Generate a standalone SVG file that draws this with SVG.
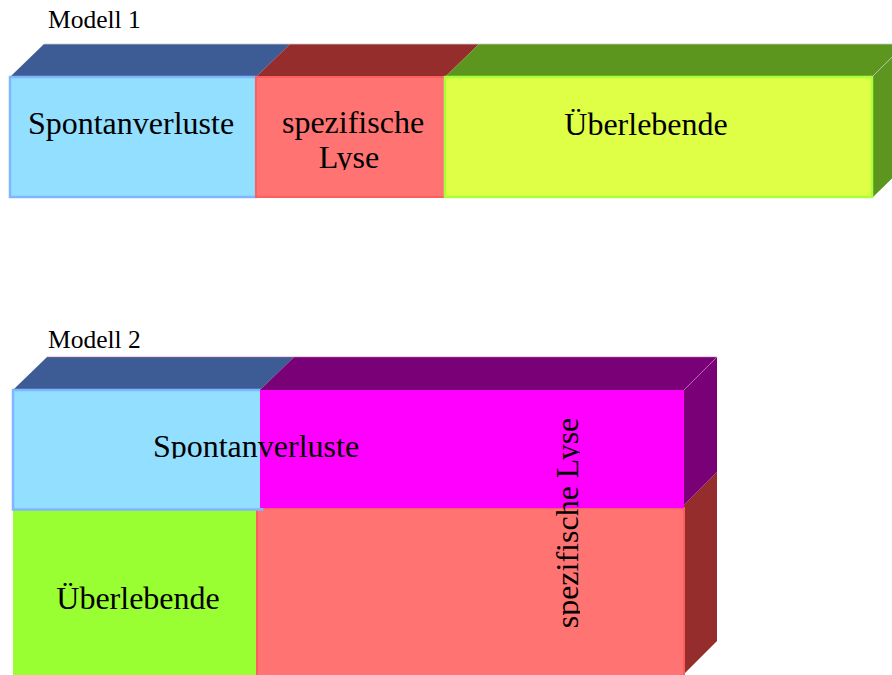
<svg xmlns="http://www.w3.org/2000/svg" width="892" height="675" viewBox="0 0 892 675">
<style>
text{font-family:"Liberation Serif","Times New Roman",serif;fill:#000}
.lbl{font-size:32px}
.cap{font-size:25.5px;font-family:"Liberation Serif","Times New Roman",serif}
.blueF{fill:#93dfff;stroke:#80b6ff;stroke-width:2.5}
.blueT{fill:#3d5b95}
.redF{fill:#ff7373;stroke:#ff5e5e;stroke-width:2}
.redT{fill:#952d2d}
.yelF{fill:#dfff46;stroke:#aaff3a;stroke-width:2.5}
.grnT{fill:#5c961f}
.magF{fill:#ff00ff}
.purT{fill:#7a0078}
.limeF{fill:#99ff33}
.edge{stroke:#c8c8c8;stroke-width:0.8;fill:none}
</style>
<defs>
<clipPath id="c1"><rect x="256" y="77" width="189" height="93"/></clipPath>
<clipPath id="c2"><rect x="0" y="390" width="700" height="68.5"/></clipPath>
<clipPath id="c3"><rect x="400" y="390" width="180" height="285"/></clipPath>
</defs>

<g id="captions">
<text class="cap" x="48" y="28" font-family="Liberation Serif, serif">Modell 1</text>
<text class="cap" x="48" y="348" font-family="Liberation Serif, serif">Modell 2</text>
</g>

<g id="m1-spontanverluste">
<polygon class="blueT" points="10,77 44,44 290,44 256,77"/>
<rect class="blueF" x="10" y="77" width="246" height="120"/>
<text class="lbl" x="131" y="134" text-anchor="middle">Spontanverluste</text>
</g>
<g id="m1-lyse">
<polygon class="redT" points="256,77 290,44 479,44 445,77"/>
<rect class="redF" x="256" y="77" width="189" height="120"/>
<g clip-path="url(#c1)">
<text class="lbl" x="353" y="133" text-anchor="middle">spezifische</text>
<text class="lbl" x="349" y="168" text-anchor="middle">Lyse</text>
</g>
</g>
<g id="m1-ueberlebende">
<polygon class="grnT" points="445,77 479,44 906,44 872,77"/>
<polygon class="grnT" points="872,77 906,44 906,165 872,198"/>
<rect class="yelF" x="445" y="77" width="427" height="120"/>
<line class="edge" x1="44" y1="44" x2="906" y2="44"/>
<line class="edge" x1="872" y1="77" x2="906" y2="43"/>
<text class="lbl" x="646" y="135" text-anchor="middle">Überlebende</text>
</g>

<g id="m2-ueberlebende">
<rect class="limeF" x="13" y="509" width="244" height="170"/>
<text class="lbl" x="138" y="609" text-anchor="middle">Überlebende</text>
</g>
<g id="m2-lyse-unten">
<polygon class="redT" points="684,505 717,472 717,641 684,674"/>
<rect class="redF" x="257" y="508" width="427" height="170"/>
</g>
<g id="m2-spontanverluste">
<polygon class="blueT" points="13,390 47,357 294,357 260,390"/>
<rect class="blueF" x="13" y="390" width="249" height="119.5"/>
</g>
<g id="m2-lyse-oben">
<polygon class="purT" points="260,390 294,357 717,357 684,390"/>
<polygon class="purT" points="684,390 717,357 717,472 684,505"/>
<rect class="magF" x="260" y="390" width="424" height="118"/>
<line x1="684" y1="390" x2="717" y2="357" stroke="#c070c0" stroke-width="0.8"/>
<line x1="47" y1="357" x2="717" y2="357" stroke="#b070b0" stroke-width="0.6"/>
</g>
<g id="m2-labels">
<text class="lbl" x="256" y="457" text-anchor="middle" clip-path="url(#c2)">Spontanverluste</text>
<g clip-path="url(#c3)">
<text class="lbl" text-anchor="middle" transform="translate(578,523) rotate(-90)">spezifische Lyse</text>
</g>
</g>
</svg>
